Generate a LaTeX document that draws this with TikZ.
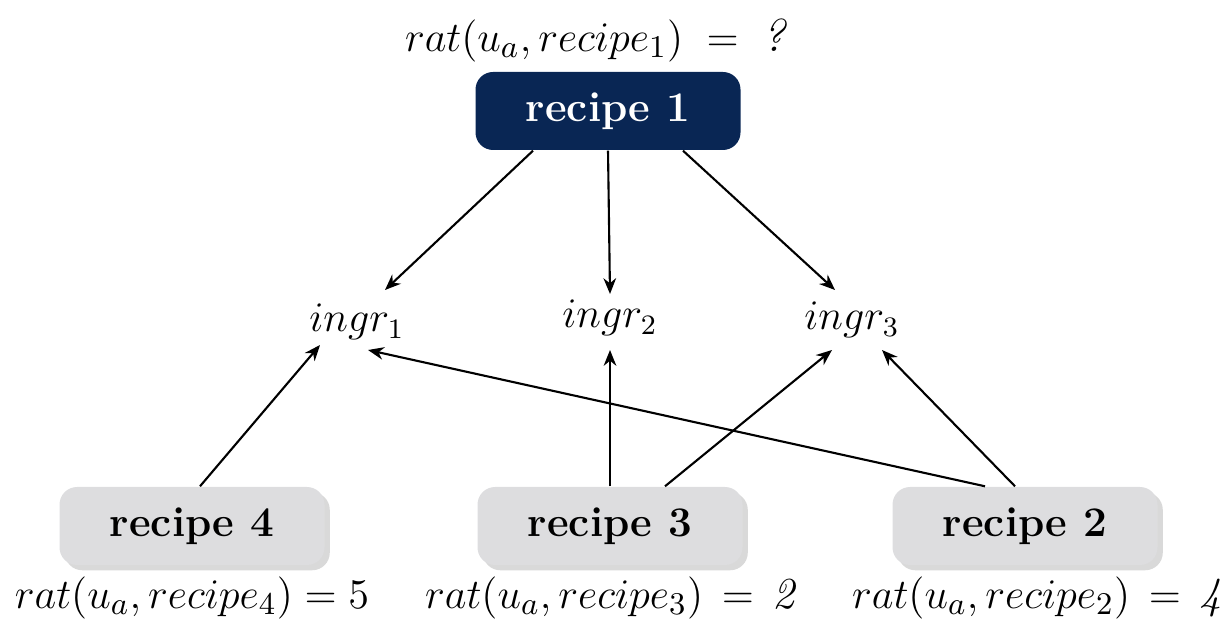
\documentclass[tikz,border=0pt]{standalone}
\usepackage{tikz}
\usetikzlibrary{positioning,arrows.meta,shadows}

\definecolor{navy}{RGB}{9,38,84}
\definecolor{boxgray}{RGB}{221,221,223}

\tikzset{
	recipebox/.style={rounded corners=5pt, minimum width=2.65cm, minimum height=0.78cm,
		font=\fontsize{12}{14}\selectfont\bfseries, inner sep=0pt},
	topbox/.style={recipebox, fill=navy, text=white},
	otherbox/.style={recipebox, fill=boxgray, text=black,
		drop shadow={shadow xshift=1.5pt, shadow yshift=-1.5pt, opacity=0.25, fill=black!60}},
	ratlabel/.style={font=\fontsize{12.6}{14}\selectfont, inner sep=1pt},
	ingr/.style={font=\fontsize{12}{14}\selectfont, inner sep=0pt},
	link/.style={line width=0.6pt, -{Stealth[length=4.5pt,width=3.6pt]}},
}

\begin{document}
\begin{tikzpicture}
	\useasboundingbox (0,0) rectangle (12.25,6.21);

	% recipe to predict
	\node (r1) at (6.08,5.10) [topbox] {recipe 1};
	\node (l1) at (5.95,5.81) [ratlabel, font=\fontsize{13}{15}\selectfont] {$rat(u_a, recipe_1) \;=\; \textit{?}$};

	% ingredients
	\node (i1) at (3.57,2.99) [ingr] {$ingr_1$};
	\node (i2) at (6.10,3.03) [ingr] {$ingr_2$};
	\node (i3) at (8.52,3.01) [ingr] {$ingr_3$};

	% rated recipes
	\node (r4) at (1.92,0.95) [otherbox] {recipe 4};
	\node (r3) at (6.10,0.95) [otherbox] {recipe 3};
	\node (r2) at (10.25,0.95) [otherbox] {recipe 2};

	\node (l4) [ratlabel, below=2pt of r4] {$rat(u_a, recipe_4) = 5$};
	\node (l3) [ratlabel, below=2pt of r3] {$rat(u_a, recipe_3) \,=\, \textit{2}$};
	\node (l2) [ratlabel, below=2pt of r2, xshift=0.12cm] {$rat(u_a, recipe_2) \,=\, \textit{4}$};

	% recipe 1 -> ingredients
	\draw[link] ([xshift=-0.75cm]r1.south) -- ([shift={(0.28,0.32)}]i1.center);
	\draw[link] (r1.south) -- ([shift={(0,0.24)}]i2.center);
	\draw[link] ([xshift=0.75cm]r1.south) -- ([shift={(-0.17,0.30)}]i3.center);

	% rated recipes -> ingredients
	\draw[link] ([xshift=0.08cm]r4.north) -- ([shift={(-0.37,-0.23)}]i1.center);
	\draw[link] (r3.north) -- ([shift={(0,-0.32)}]i2.center);
	\draw[link] ([xshift=0.55cm]r3.north) -- ([shift={(-0.20,-0.30)}]i3.center);
	\draw[link] ([xshift=-0.40cm]r2.north) -- ([shift={(0.11,-0.28)}]i1.center);
	\draw[link] ([xshift=-0.10cm]r2.north) -- ([shift={(0.30,-0.30)}]i3.center);

\end{tikzpicture}
\end{document}
